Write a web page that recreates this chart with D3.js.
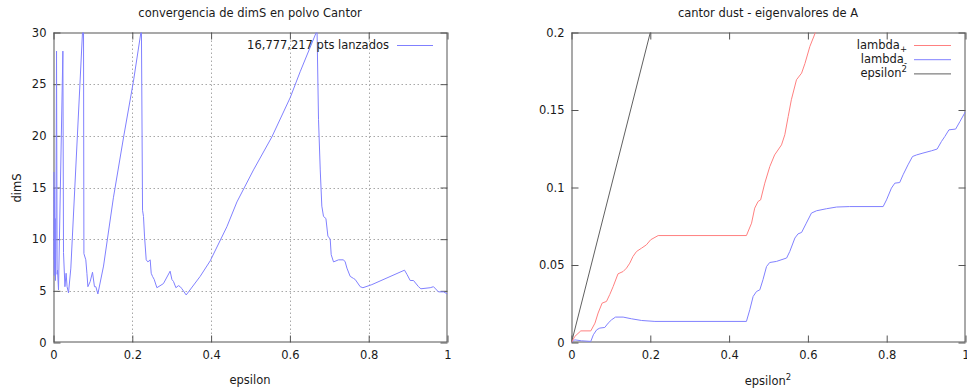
<!DOCTYPE html>
<html>
<head>
<meta charset="utf-8">
<script src="https://cdn.jsdelivr.net/npm/d3@7"></script>
<style>
  html, body { margin: 0; padding: 0; background: #fff; }
  svg text { font-family: "DejaVu Sans", sans-serif; fill: #1a1a1a; }
</style>
</head>
<body>
<svg id="chart" width="967" height="389"></svg>
<script>
// dimS convergence for the Cantor dust (epsilon, dimS)
const convEps = [
  0, 0.0008, 0.0016, 0.0024, 0.0032, 0.004, 0.005, 0.006, 0.0077, 0.0092, 0.0102, 0.0127,
  0.0238, 0.0254, 0.029, 0.032, 0.0345, 0.0381, 0.044,
  0.0736, 0.0762, 0.0772, 0.082, 0.0848, 0.0873, 0.0931, 0.099, 0.104, 0.1075, 0.1126, 0.127,
  0.152, 0.178, 0.203, 0.2218, 0.2232, 0.226, 0.2284, 0.231, 0.2353, 0.2396, 0.2454, 0.248,
  0.2513, 0.2556, 0.2624, 0.279, 0.296, 0.3005, 0.3046, 0.3107, 0.317, 0.3216, 0.3259, 0.3368,
  0.3723, 0.3977, 0.440, 0.4655, 0.5076, 0.5543, 0.6008, 0.626, 0.6668, 0.6690,
  0.6726, 0.677, 0.681, 0.6853, 0.6914, 0.6964, 0.7023, 0.7048, 0.7107, 0.7234, 0.736, 0.7404,
  0.7447, 0.753, 0.7614, 0.7657, 0.7784, 0.7853, 0.808, 0.8909, 0.897, 0.9053, 0.9137, 0.9264,
  0.9325, 0.956, 0.9645, 0.977, 0.99, 1.0
];
const convDimS = [
  8.0, 16.5, 6.5, 14.8, 7.2, 12.0, 6.0, 9.0, 28.2, 6.6, 7.0, 5.1,
  28.2, 8.7, 5.4, 6.7, 5.4, 4.8, 7.2,
  30, 30, 8.6, 8.0, 6.7, 5.4, 5.9, 6.8, 5.4, 5.4, 4.7, 7.4,
  14.0, 19.9, 25.3, 30, 30, 12.8, 12.2, 10.3, 8.0, 7.8, 8.0, 6.7,
  6.4, 6.1, 5.3, 5.7, 6.9, 6.1, 5.9, 5.3, 5.5, 5.4, 5.2, 4.6,
  6.4, 7.9, 11.2, 13.6, 16.7, 19.9, 23.7, 26.2, 30, 30,
  21.6, 16.7, 13.2, 12.2, 12.0, 10.3, 10.0, 8.5, 7.8, 8.0, 8.0, 7.8,
  7.2, 6.4, 6.2, 6.1, 5.4, 5.3, 5.6, 7.0, 6.6, 6.0, 6.0, 5.4,
  5.2, 5.3, 5.4, 4.9, 4.9, 4.7
];

// eigenvalues of A against epsilon^2
const lambdaPlusX = [
  0, 0.0084, 0.0236, 0.049, 0.0596, 0.0675, 0.0777, 0.0888, 0.0972, 0.1056, 0.118, 0.131,
  0.1396, 0.148, 0.156, 0.165, 0.178, 0.19, 0.201, 0.22, 0.444, 0.457, 0.465, 0.4736, 0.48,
  0.4906, 0.5033, 0.5155, 0.533, 0.5414, 0.55, 0.558, 0.571, 0.584, 0.5925, 0.605, 0.62, 0.63
];
const lambdaPlusY = [
  0, 0.0039, 0.0075, 0.0075, 0.0125, 0.019, 0.0254, 0.0265, 0.031, 0.036, 0.0443, 0.0458,
  0.048, 0.0512, 0.0555, 0.0587, 0.0609, 0.063, 0.0663, 0.069, 0.069, 0.077, 0.0867, 0.091, 0.092,
  0.1028, 0.1135, 0.121, 0.1275, 0.134, 0.1458, 0.1566, 0.1695, 0.1738, 0.180, 0.191, 0.2006, 0.206
];
const lambdaMinusX = [
  0, 0.0084, 0.0253, 0.049, 0.0555, 0.064, 0.0718, 0.0845, 0.093, 0.1015, 0.1117, 0.131,
  0.1523, 0.178, 0.2117, 0.444, 0.4525, 0.461, 0.4695, 0.478, 0.486, 0.495, 0.503, 0.520,
  0.546, 0.554, 0.567, 0.575, 0.584, 0.596, 0.609, 0.622, 0.647, 0.673, 0.706, 0.791,
  0.7995, 0.812, 0.8206, 0.833, 0.8416, 0.854, 0.8655, 0.8756, 0.892, 0.914, 0.928, 0.939,
  0.9475, 0.958, 0.975, 0.986, 1.0
];
const lambdaMinusY = [
  0, 0.0017, 0.0011, 0.0007, 0.005, 0.0082, 0.0093, 0.0097, 0.0125, 0.0146, 0.0164, 0.0164,
  0.0153, 0.0142, 0.0136, 0.0136, 0.0211, 0.0297, 0.0329, 0.034, 0.0405, 0.049, 0.0516, 0.0523,
  0.0545, 0.0587, 0.0674, 0.0701, 0.071, 0.077, 0.0835, 0.085, 0.0863, 0.0874, 0.0877, 0.0877,
  0.092, 0.0996, 0.1028, 0.1032, 0.1082, 0.1146, 0.12, 0.121, 0.1222, 0.1237, 0.1248, 0.1297,
  0.1329, 0.1372, 0.1377, 0.1426, 0.149
];
const epsSqX = [0, 0.21];
const epsSqY = [0, 0.21];

// tick values
const epsTicks = [0, 0.2, 0.4, 0.6, 0.8, 1];
const dimSTicks = [0, 5, 10, 15, 20, 25, 30];
const eigTicks = [0, 0.05, 0.1, 0.15, 0.2];

const titleLeft = "convergencia de dimS en polvo Cantor";
const titleRight = "cantor dust - eigenvalores de A";
const legendLeft = "16,777,217 pts lanzados";

const BLUE = "#8080ff", RED = "#ff8080", GREY = "#606060";
const FONT = 11.5;
const svg = d3.select("#chart");

function panel(opts) {
  const { x0, x1, y0, y1, xDomain, yDomain, xTicks, yTicks, grid, id } = opts;
  const x = d3.scaleLinear().domain(xDomain).range([x0, x1]);
  const y = d3.scaleLinear().domain(yDomain).range([y1, y0]);
  const g = svg.append("g");

  g.append("clipPath").attr("id", id).append("rect")
    .attr("x", x0).attr("y", y0).attr("width", x1 - x0).attr("height", y1 - y0);

  if (grid) {
    const gg = g.append("g").attr("stroke", "#a8a8a8").attr("stroke-width", 1)
      .attr("stroke-dasharray", "1.5,2.5");
    gg.selectAll(".gx").data(xTicks.slice(1, -1)).join("line")
      .attr("x1", d => Math.round(x(d)) + 0.5).attr("x2", d => Math.round(x(d)) + 0.5)
      .attr("y1", y0).attr("y2", y1);
    gg.selectAll(".gy").data(yTicks.slice(1, -1)).join("line")
      .attr("y1", d => Math.round(y(d)) + 0.5).attr("y2", d => Math.round(y(d)) + 0.5)
      .attr("x1", x0).attr("x2", x1);
  }

  const fmt = d => String(d);
  const tick = 7;
  const styleAxis = sel => {
    sel.select(".domain").remove();
    sel.selectAll(".tick line").attr("stroke", "#555");
    sel.selectAll(".tick text").attr("fill", "#1a1a1a")
      .style("font-family", '"DejaVu Sans", sans-serif').style("font-size", FONT + "px");
  };
  g.append("g").attr("transform", `translate(0,${y1})`)
    .call(d3.axisBottom(x).tickValues(xTicks).tickFormat(fmt).tickSize(-tick).tickPadding(8))
    .call(styleAxis);
  g.append("g").attr("transform", `translate(0,${y0})`)
    .call(d3.axisTop(x).tickValues(xTicks).tickFormat("").tickSize(-tick))
    .call(styleAxis);
  g.append("g").attr("transform", `translate(${x0},0)`)
    .call(d3.axisLeft(y).tickValues(yTicks).tickFormat(fmt).tickSize(-tick).tickPadding(7))
    .call(styleAxis);
  g.append("g").attr("transform", `translate(${x1},0)`)
    .call(d3.axisRight(y).tickValues(yTicks).tickFormat("").tickSize(-tick))
    .call(styleAxis);

  g.append("rect").attr("x", x0 + 0.5).attr("y", y0 + 0.5)
    .attr("width", x1 - x0 - 1).attr("height", y1 - y0 - 1)
    .attr("fill", "none").attr("stroke", "#555").attr("stroke-width", 1);

  const plot = g.append("g").attr("clip-path", `url(#${id})`);
  return { x, y, g, plot };
}

function drawLine(p, xs, ys, color) {
  const pts = xs.map((v, i) => [v, ys[i]]);
  p.plot.append("path").datum(pts)
    .attr("fill", "none").attr("stroke", color).attr("stroke-width", 1)
    .attr("stroke-linejoin", "round")
    .attr("d", d3.line().x(d => p.x(d[0])).y(d => p.y(d[1])));
}

// left panel: dimS vs epsilon
const L = panel({ id: "clipL", x0: 53.5, x1: 447.5, y0: 32.5, y1: 342.5,
  xDomain: [0, 1], yDomain: [0, 30], xTicks: epsTicks, yTicks: dimSTicks, grid: true });
drawLine(L, convEps, convDimS, BLUE);

svg.append("text").attr("x", 250).attr("y", 13).attr("dy", "0.35em")
  .attr("text-anchor", "middle").style("font-size", FONT + "px").text(titleLeft);
svg.append("text").attr("x", 250).attr("y", 380).attr("dy", "0.35em")
  .attr("text-anchor", "middle").style("font-size", FONT + "px").text("epsilon");
svg.append("text").attr("transform", "translate(17,188) rotate(-90)").attr("dy", "0.35em")
  .attr("text-anchor", "middle").style("font-size", FONT + "px").text("dimS");

svg.append("text").attr("x", 389).attr("y", 45).attr("dy", "0.35em")
  .attr("text-anchor", "end").style("font-size", FONT + "px").text(legendLeft);
svg.append("line").attr("x1", 397).attr("x2", 433).attr("y1", 45.5).attr("y2", 45.5)
  .attr("stroke", BLUE);

// right panel: eigenvalues of A vs epsilon^2
const R = panel({ id: "clipR", x0: 571.5, x1: 965.5, y0: 32.5, y1: 342.5,
  xDomain: [0, 1], yDomain: [0, 0.2], xTicks: epsTicks, yTicks: eigTicks, grid: false });
drawLine(R, epsSqX, epsSqY, GREY);
drawLine(R, lambdaMinusX, lambdaMinusY, BLUE);
drawLine(R, lambdaPlusX, lambdaPlusY, RED);

svg.append("text").attr("x", 768).attr("y", 13).attr("dy", "0.35em")
  .attr("text-anchor", "middle").style("font-size", FONT + "px").text(titleRight);
const xl = svg.append("text").attr("x", 768).attr("y", 381).attr("dy", "0.35em")
  .attr("text-anchor", "middle").style("font-size", FONT + "px");
xl.append("tspan").text("epsilon");
xl.append("tspan").attr("baseline-shift", "5").style("font-size", "8.5px").text("2");

// right legend
const legendRows = [
  { name: "lambda", mark: "+", shift: -3, color: RED },
  { name: "lambda", mark: "-", shift: -3, color: BLUE },
  { name: "epsilon", mark: "2", shift: 5, color: GREY }
];
legendRows.forEach((r, i) => {
  const yy = 45 + i * 14.2;
  const t = svg.append("text").attr("x", 907).attr("y", yy).attr("dy", "0.35em")
    .attr("text-anchor", "end").style("font-size", FONT + "px");
  t.append("tspan").text(r.name);
  t.append("tspan").attr("baseline-shift", r.shift).style("font-size", "8.5px").text(r.mark);
  svg.append("line").attr("x1", 914).attr("x2", 951).attr("y1", yy + 0.5).attr("y2", yy + 0.5)
    .attr("stroke", r.color);
});
</script>
</body>
</html>
